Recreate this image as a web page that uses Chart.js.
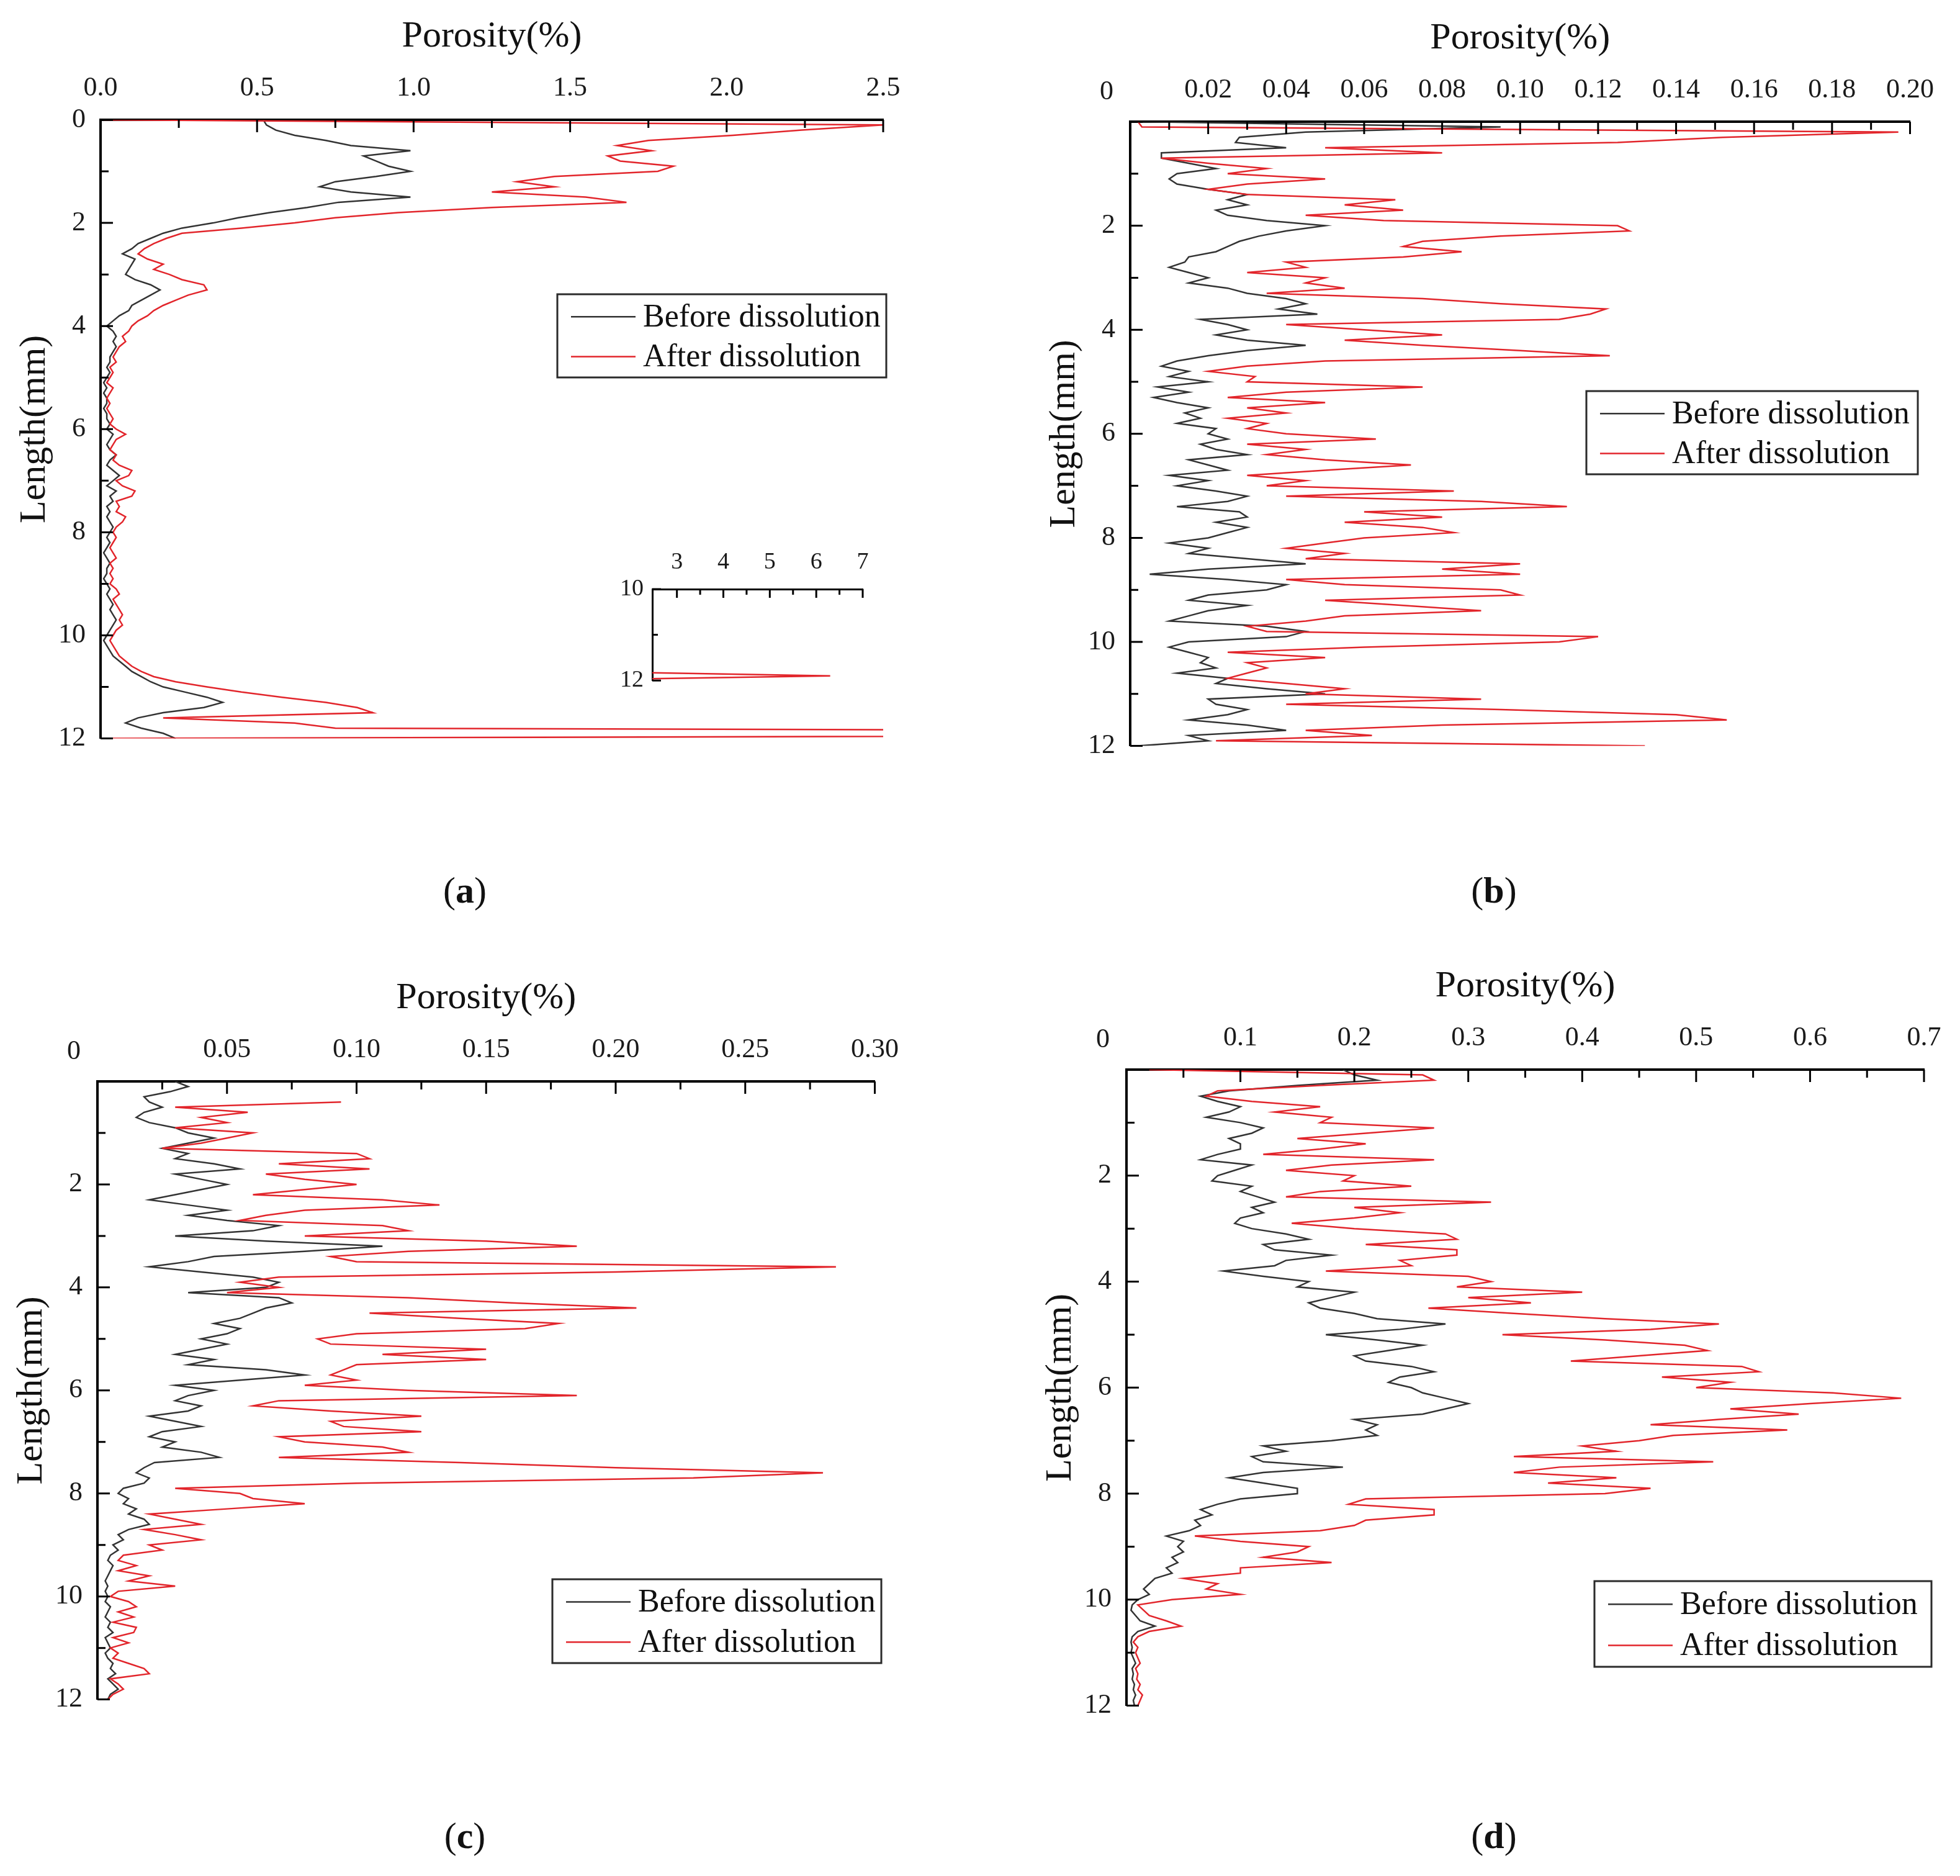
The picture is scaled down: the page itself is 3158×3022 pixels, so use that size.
<!DOCTYPE html>
<html>
<head>
<meta charset="utf-8">
<title>Porosity profiles before and after dissolution</title>
<script src="https://cdn.jsdelivr.net/npm/chart.js@4.4.1/dist/chart.umd.min.js"></script>
<style>
  html, body { margin: 0; padding: 0; background: #fff; }
  #page { position: relative; width: 3158px; height: 3022px; background: #fff; overflow: hidden; }
  #page canvas { position: absolute; }
  .caption {
    position: absolute;
    font-family: "Liberation Serif", "Times New Roman", serif;
    font-size: 60px;
    color: #111;
    transform: translate(-50%, -50%);
    white-space: nowrap;
  }
</style>
</head>
<body>
<div id="page">
  <canvas id="chartA"></canvas>
  <canvas id="chartAInset"></canvas>
  <canvas id="chartB"></canvas>
  <canvas id="chartC"></canvas>
  <canvas id="chartD"></canvas>
  <div class="caption" style="left:749px;top:1434px">(<b>a</b>)</div>
  <div class="caption" style="left:2407px;top:1434px">(<b>b</b>)</div>
  <div class="caption" style="left:749px;top:2957px">(<b>c</b>)</div>
  <div class="caption" style="left:2407px;top:2957px">(<b>d</b>)</div>
</div>
<script>
// sample positions along the core (mm), shared by every series
const lengthMm = [
  0.0, 0.1, 0.2, 0.3, 0.4, 0.5, 0.6, 0.7, 0.8, 0.9,
  1.0, 1.1, 1.2, 1.3, 1.4, 1.5, 1.6, 1.7, 1.8, 1.9,
  2.0, 2.1, 2.2, 2.3, 2.4, 2.5, 2.6, 2.7, 2.8, 2.9,
  3.0, 3.1, 3.2, 3.3, 3.4, 3.5, 3.6, 3.7, 3.8, 3.9,
  4.0, 4.1, 4.2, 4.3, 4.4, 4.5, 4.6, 4.7, 4.8, 4.9,
  5.0, 5.1, 5.2, 5.3, 5.4, 5.5, 5.6, 5.7, 5.8, 5.9,
  6.0, 6.1, 6.2, 6.3, 6.4, 6.5, 6.6, 6.7, 6.8, 6.9,
  7.0, 7.1, 7.2, 7.3, 7.4, 7.5, 7.6, 7.7, 7.8, 7.9,
  8.0, 8.1, 8.2, 8.3, 8.4, 8.5, 8.6, 8.7, 8.8, 8.9,
  9.0, 9.1, 9.2, 9.3, 9.4, 9.5, 9.6, 9.7, 9.8, 9.9,
  10.0, 10.1, 10.2, 10.3, 10.4, 10.5, 10.6, 10.7, 10.8, 10.9,
  11.0, 11.1, 11.2, 11.3, 11.4, 11.5, 11.6, 11.7, 11.8, 11.9,
  12.0
];

// porosity (%) per sample, panel (a)
const aBefore = [
  0.52, 0.53, 0.56, 0.62, 0.72, 0.80, 0.99, 0.84, 0.88, 0.92,
  0.99, 0.88, 0.75, 0.70, 0.80, 0.99, 0.76, 0.66, 0.54, 0.44,
  0.36, 0.26, 0.20, 0.16, 0.12, 0.10, 0.07, 0.11, 0.10, 0.09,
  0.08, 0.11, 0.16, 0.19, 0.16, 0.13, 0.10, 0.09, 0.06, 0.04,
  0.02, 0.04, 0.05, 0.04, 0.05, 0.04, 0.03, 0.03, 0.02, 0.03,
  0.02, 0.01, 0.02, 0.01, 0.02, 0.02, 0.01, 0.02, 0.02, 0.03,
  0.02, 0.04, 0.03, 0.02, 0.03, 0.05, 0.03, 0.02, 0.04, 0.06,
  0.04, 0.02, 0.05, 0.03, 0.04, 0.02, 0.03, 0.02, 0.03, 0.04,
  0.03, 0.02, 0.03, 0.02, 0.01, 0.02, 0.03, 0.02, 0.02, 0.01,
  0.02, 0.03, 0.02, 0.03, 0.04, 0.03, 0.04, 0.05, 0.04, 0.03,
  0.02, 0.01, 0.02, 0.03, 0.04, 0.06, 0.08, 0.10, 0.13, 0.16,
  0.20, 0.27, 0.34, 0.39, 0.33, 0.20, 0.12, 0.08, 0.13, 0.20,
  0.24
];
const aAfter = [
  0.01, 2.50, 2.24, 2.02, 1.75, 1.65, 1.76, 1.62, 1.66, 1.83,
  1.78, 1.45, 1.33, 1.45, 1.25, 1.55, 1.68, 1.25, 0.95, 0.75,
  0.62, 0.45, 0.26, 0.21, 0.17, 0.14, 0.12, 0.15, 0.20, 0.17,
  0.22, 0.26, 0.33, 0.34, 0.28, 0.24, 0.20, 0.17, 0.15, 0.12,
  0.10, 0.09, 0.07, 0.08, 0.06, 0.05, 0.04, 0.05, 0.03, 0.04,
  0.03, 0.02, 0.04, 0.03, 0.02, 0.03, 0.02, 0.03, 0.04, 0.03,
  0.05, 0.08, 0.05, 0.04, 0.03, 0.05, 0.04, 0.06, 0.10, 0.09,
  0.05, 0.07, 0.11, 0.10, 0.05, 0.06, 0.05, 0.08, 0.07, 0.05,
  0.04, 0.05, 0.04, 0.03, 0.04, 0.05, 0.03, 0.04, 0.03, 0.04,
  0.03, 0.05, 0.06, 0.04, 0.05, 0.06, 0.07, 0.06, 0.07, 0.05,
  0.04, 0.03, 0.04, 0.05, 0.06, 0.08, 0.10, 0.13, 0.17, 0.24,
  0.34, 0.45, 0.58, 0.72, 0.82, 0.87, 0.20, 0.62, 0.75, 6.30,
  0.02
];

// panel (b)
const bBefore = [
  0.002, 0.095, 0.045, 0.028, 0.027, 0.040, 0.008, 0.008, 0.015, 0.022,
  0.012, 0.010, 0.012, 0.020, 0.030, 0.025, 0.030, 0.022, 0.025, 0.035,
  0.050, 0.040, 0.033, 0.028, 0.025, 0.022, 0.015, 0.014, 0.010, 0.015,
  0.020, 0.015, 0.025, 0.030, 0.040, 0.045, 0.038, 0.048, 0.018, 0.025,
  0.030, 0.022, 0.030, 0.045, 0.030, 0.020, 0.012, 0.008, 0.015, 0.010,
  0.020, 0.007, 0.015, 0.006, 0.012, 0.020, 0.014, 0.018, 0.012, 0.022,
  0.020, 0.025, 0.018, 0.022, 0.030, 0.015, 0.020, 0.025, 0.010, 0.020,
  0.012, 0.022, 0.030, 0.025, 0.012, 0.028, 0.030, 0.022, 0.030, 0.025,
  0.020, 0.010, 0.020, 0.015, 0.030, 0.045, 0.020, 0.005, 0.025, 0.040,
  0.035, 0.020, 0.015, 0.030, 0.020, 0.015, 0.010, 0.035, 0.045, 0.040,
  0.015, 0.010, 0.015, 0.020, 0.018, 0.022, 0.012, 0.025, 0.022, 0.035,
  0.050, 0.020, 0.022, 0.030, 0.025, 0.015, 0.030, 0.040, 0.015, 0.020,
  0.002
];
const bAfter = [
  0.002, 0.003, 0.197, 0.152, 0.125, 0.050, 0.080, 0.008, 0.020, 0.035,
  0.025, 0.050, 0.030, 0.020, 0.030, 0.068, 0.055, 0.070, 0.045, 0.065,
  0.125, 0.128, 0.095, 0.075, 0.070, 0.085, 0.070, 0.040, 0.045, 0.030,
  0.050, 0.045, 0.055, 0.035, 0.075, 0.095, 0.122, 0.118, 0.110, 0.040,
  0.060, 0.080, 0.055, 0.075, 0.100, 0.123, 0.050, 0.030, 0.020, 0.032,
  0.030, 0.075, 0.040, 0.025, 0.050, 0.030, 0.040, 0.025, 0.035, 0.030,
  0.040, 0.063, 0.030, 0.045, 0.035, 0.050, 0.072, 0.050, 0.030, 0.045,
  0.035, 0.083, 0.040, 0.090, 0.112, 0.060, 0.080, 0.055, 0.075, 0.083,
  0.060, 0.050, 0.040, 0.055, 0.045, 0.100, 0.080, 0.100, 0.040, 0.055,
  0.095, 0.100, 0.050, 0.070, 0.090, 0.055, 0.045, 0.030, 0.035, 0.120,
  0.110, 0.060, 0.025, 0.050, 0.030, 0.035, 0.030, 0.025, 0.040, 0.055,
  0.045, 0.090, 0.040, 0.095, 0.140, 0.153, 0.080, 0.045, 0.062, 0.022,
  0.132
];

// panel (c)
const cBefore = [
  0.030, 0.035, 0.028, 0.018, 0.020, 0.025, 0.018, 0.015, 0.020, 0.030,
  0.035, 0.045, 0.035, 0.025, 0.035, 0.030, 0.045, 0.055, 0.030, 0.040,
  0.050, 0.040, 0.030, 0.020, 0.035, 0.050, 0.035, 0.050, 0.070, 0.060,
  0.030, 0.065, 0.110, 0.080, 0.045, 0.035, 0.020, 0.040, 0.060, 0.070,
  0.065, 0.035, 0.070, 0.075, 0.065, 0.060, 0.055, 0.045, 0.055, 0.050,
  0.040, 0.050, 0.040, 0.030, 0.045, 0.035, 0.065, 0.080, 0.055, 0.030,
  0.045, 0.035, 0.030, 0.040, 0.035, 0.020, 0.030, 0.040, 0.025, 0.020,
  0.030, 0.025, 0.040, 0.047, 0.022, 0.018, 0.015, 0.020, 0.018, 0.010,
  0.008, 0.012, 0.010, 0.015, 0.012, 0.018, 0.020, 0.012, 0.008, 0.010,
  0.006, 0.008, 0.005, 0.004, 0.006, 0.005, 0.004, 0.003, 0.004, 0.003,
  0.004, 0.003, 0.005, 0.004, 0.003, 0.005, 0.004, 0.006, 0.003, 0.004,
  0.005, 0.003, 0.004, 0.006, 0.005, 0.007, 0.004, 0.006, 0.008, 0.005,
  0.004
];
const cAfter = [
  null, null, null, null, 0.094, 0.030, 0.058, 0.040, 0.050, 0.030,
  0.060, 0.050, 0.040, 0.025, 0.100, 0.105, 0.070, 0.105, 0.065, 0.080,
  0.100, 0.080, 0.060, 0.110, 0.132, 0.080, 0.065, 0.055, 0.110, 0.120,
  0.080, 0.150, 0.185, 0.120, 0.090, 0.100, 0.285, 0.200, 0.070, 0.055,
  0.070, 0.050, 0.120, 0.160, 0.208, 0.105, 0.140, 0.178, 0.165, 0.100,
  0.085, 0.090, 0.150, 0.110, 0.150, 0.100, 0.095, 0.090, 0.100, 0.080,
  0.120, 0.185, 0.070, 0.060, 0.090, 0.125, 0.090, 0.095, 0.125, 0.070,
  0.080, 0.110, 0.120, 0.070, 0.140, 0.200, 0.280, 0.230, 0.100, 0.030,
  0.055, 0.060, 0.080, 0.050, 0.020, 0.030, 0.040, 0.018, 0.030, 0.040,
  0.020, 0.025, 0.010, 0.008, 0.015, 0.008, 0.020, 0.012, 0.030, 0.008,
  0.005, 0.012, 0.015, 0.008, 0.014, 0.006, 0.015, 0.014, 0.006, 0.012,
  0.005, 0.008, 0.006, 0.012, 0.018, 0.020, 0.005, 0.008, 0.010, 0.006,
  0.004
];

// panel (d)
const dBefore = [
  0.19, 0.20, 0.22, 0.15, 0.09, 0.065, 0.08, 0.10, 0.09, 0.07,
  0.10, 0.12, 0.11, 0.09, 0.10, 0.10, 0.08, 0.065, 0.11, 0.095,
  0.08, 0.075, 0.11, 0.10, 0.115, 0.13, 0.11, 0.12, 0.10, 0.095,
  0.11, 0.14, 0.16, 0.12, 0.13, 0.18, 0.14, 0.13, 0.085, 0.12,
  0.16, 0.15, 0.20, 0.18, 0.16, 0.17, 0.20, 0.22, 0.28, 0.24,
  0.175, 0.22, 0.26, 0.23, 0.20, 0.21, 0.25, 0.27, 0.24, 0.23,
  0.25, 0.26, 0.28, 0.30, 0.28, 0.26, 0.20, 0.22, 0.21, 0.22,
  0.18, 0.12, 0.14, 0.11, 0.12, 0.19, 0.12, 0.09, 0.12, 0.15,
  0.15, 0.10, 0.08, 0.065, 0.075, 0.06, 0.065, 0.055, 0.035, 0.05,
  0.045, 0.05, 0.04, 0.045, 0.035, 0.04, 0.025, 0.02, 0.015, 0.02,
  0.010, 0.005, 0.004, 0.008, 0.012, 0.025, 0.010, 0.005, 0.004, 0.005,
  0.004, 0.006, 0.008, 0.005, 0.006, 0.005, 0.007, 0.006, 0.008, 0.006,
  0.007
];
const dAfter = [
  0.02, 0.26, 0.27, 0.17, 0.08, 0.07, 0.11, 0.17, 0.13, 0.18,
  0.17, 0.27, 0.21, 0.15, 0.21, 0.17, 0.12, 0.27, 0.18, 0.14,
  0.20, 0.19, 0.25, 0.17, 0.14, 0.32, 0.20, 0.24, 0.20, 0.145,
  0.20, 0.28, 0.29, 0.21, 0.29, 0.29, 0.24, 0.25, 0.175, 0.30,
  0.32, 0.29, 0.40, 0.30, 0.355, 0.265, 0.34, 0.42, 0.52, 0.46,
  0.33, 0.42, 0.49, 0.51, 0.45, 0.39, 0.54, 0.555, 0.47, 0.53,
  0.50, 0.62, 0.68, 0.60, 0.53, 0.59, 0.52, 0.46, 0.58, 0.48,
  0.45, 0.40, 0.43, 0.34, 0.515, 0.38, 0.34, 0.43, 0.37, 0.46,
  0.42, 0.21, 0.195, 0.27, 0.27, 0.21, 0.20, 0.17, 0.06, 0.10,
  0.16, 0.15, 0.12, 0.18, 0.10, 0.10, 0.05, 0.08, 0.07, 0.10,
  0.040, 0.010, 0.015, 0.020, 0.035, 0.048, 0.020, 0.010, 0.006, 0.010,
  0.008, 0.010, 0.012, 0.008, 0.010, 0.009, 0.012, 0.010, 0.014, 0.012,
  0.010
];

// tick values
const aTicksX = [0, 0.5, 1.0, 1.5, 2.0, 2.5];
const bTicksX = [0, 0.02, 0.04, 0.06, 0.08, 0.10, 0.12, 0.14, 0.16, 0.18, 0.20];
const cTicksX = [0, 0.05, 0.10, 0.15, 0.20, 0.25, 0.30];
const dTicksX = [0, 0.1, 0.2, 0.3, 0.4, 0.5, 0.6, 0.7];
const lengthTicks = [0, 2, 4, 6, 8, 10, 12];
const insetTicksX = [3, 4, 5, 6, 7];
const insetTicksY = [10, 12];

const SERIF = "'Liberation Serif', 'Times New Roman', serif";
const BLACK = '#333333';
const RED = '#e2252b';
const AXIS_W = 170, AXIS_H = 200, PAD_R = 60, PAD_B = 40;

function toPoints(values) {
  return values
    .map((v, i) => (v === null ? null : { x: v, y: lengthMm[i] }))
    .filter(p => p !== null);
}

// place a canvas so that its chart area lands on the given page rectangle
function placeCanvas(id, rect, axisW, axisH, padR, padB) {
  const c = document.getElementById(id);
  c.width = rect.right - rect.left + axisW + padR;
  c.height = rect.bottom - rect.top + axisH + padB;
  c.style.left = (rect.left - axisW) + 'px';
  c.style.top = (rect.top - axisH) + 'px';
  return c;
}

// inward tick marks, the shared corner "0" and the boxed legend
const decorPlugin = {
  id: 'decor',
  afterDraw(chart, args, o) {
    const { ctx, chartArea: a, scales: { x, y } } = chart;
    const mids = vs => vs.slice(1).map((v, i) => (v + vs[i]) / 2);
    const xt = x.ticks.map(t => t.value);
    const yt = y.ticks.map(t => t.value);
    ctx.save();
    ctx.strokeStyle = '#000';
    ctx.lineWidth = o.tickWidth;
    ctx.beginPath();
    xt.forEach(v => { const p = x.getPixelForValue(v); ctx.moveTo(p, a.top); ctx.lineTo(p, a.top + o.major); });
    mids(xt).forEach(v => { const p = x.getPixelForValue(v); ctx.moveTo(p, a.top); ctx.lineTo(p, a.top + o.minor); });
    yt.forEach(v => { const p = y.getPixelForValue(v); ctx.moveTo(a.left, p); ctx.lineTo(a.left + o.major, p); });
    mids(yt).forEach(v => { const p = y.getPixelForValue(v); ctx.moveTo(a.left, p); ctx.lineTo(a.left + o.minor, p); });
    ctx.stroke();

    if (o.cornerZero) {
      ctx.fillStyle = '#1a1a1a';
      ctx.font = `44px ${SERIF}`;
      ctx.textAlign = 'center';
      ctx.textBaseline = 'middle';
      ctx.fillText('0', a.left - 38, a.top - 48);
    }

    if (o.legend) {
      const L = o.legend;
      const bx = a.left + L.dx, by = a.top + L.dy;
      ctx.strokeStyle = '#2b2b2b';
      ctx.lineWidth = 3;
      ctx.strokeRect(bx, by, L.w, L.h);
      ctx.font = `52px ${SERIF}`;
      ctx.textAlign = 'left';
      ctx.textBaseline = 'middle';
      chart.data.datasets.forEach((ds, i) => {
        const ry = by + L.h * (0.27 + 0.48 * i);
        ctx.strokeStyle = ds.borderColor;
        ctx.lineWidth = 2.5;
        ctx.beginPath();
        ctx.moveTo(bx + 22, ry);
        ctx.lineTo(bx + 126, ry);
        ctx.stroke();
        ctx.fillStyle = '#111';
        ctx.fillText(ds.label, bx + 138, ry + 2);
      });
    }
    ctx.restore();
  }
};

function seriesSets(before, after) {
  const common = { borderWidth: 2.5, showLine: true, pointRadius: 0 };
  return [
    Object.assign({ label: 'Before dissolution', data: toPoints(before), borderColor: BLACK, order: 1 }, common),
    Object.assign({ label: 'After dissolution', data: toPoints(after), borderColor: RED, order: 0 }, common)
  ];
}

function panelChart(id, rect, p) {
  const canvas = placeCanvas(id, rect, AXIS_W, AXIS_H, PAD_R, PAD_B);
  return new Chart(canvas, {
    type: 'scatter',
    data: { datasets: seriesSets(p.before, p.after) },
    options: {
      responsive: false,
      animation: false,
      devicePixelRatio: 1,
      layout: { padding: { left: 0, top: 0, right: PAD_R, bottom: PAD_B } },
      plugins: {
        legend: { display: false },
        tooltip: { enabled: false },
        decor: { tickWidth: 3, major: 20, minor: 13, cornerZero: p.cornerZero, legend: p.legend }
      },
      scales: {
        x: {
          type: 'linear',
          position: 'top',
          min: p.ticksX[0],
          max: p.ticksX[p.ticksX.length - 1],
          afterBuildTicks: s => { s.ticks = p.ticksX.map(v => ({ value: v })); },
          afterFit: s => { s.height = AXIS_H; },
          grid: { display: false, drawTicks: false },
          border: { display: true, color: '#000', width: 4 },
          ticks: {
            color: '#1a1a1a', font: { family: SERIF, size: 44 }, padding: 24,
            autoSkip: false, maxRotation: 0,
            callback: v => (v === 0 && p.cornerZero ? '' : v.toFixed(p.digits))
          },
          title: { display: true, text: 'Porosity(%)', color: '#111',
                   font: { family: SERIF, size: 60 }, padding: { top: 30, bottom: 0 } }
        },
        y: {
          type: 'linear',
          reverse: true,
          min: 0,
          max: 12,
          afterBuildTicks: s => { s.ticks = lengthTicks.map(v => ({ value: v })); },
          afterFit: s => { s.width = AXIS_W; },
          grid: { display: false, drawTicks: false },
          border: { display: true, color: '#000', width: 4 },
          ticks: {
            color: '#1a1a1a', font: { family: SERIF, size: 44 }, padding: 24,
            autoSkip: false,
            callback: v => (v === 0 && p.cornerZero ? '' : String(v))
          },
          title: { display: true, text: 'Length(mm)', color: '#111',
                   font: { family: SERIF, size: 60 }, padding: { top: 28, bottom: 0 } }
        }
      }
    },
    plugins: [decorPlugin]
  });
}

panelChart('chartA', { left: 162, top: 193, right: 1423, bottom: 1200 }, {
  before: aBefore, after: aAfter, ticksX: aTicksX, digits: 1, cornerZero: false,
  legend: { dx: 736, dy: 281, w: 530, h: 134 }
});
panelChart('chartB', { left: 1821, top: 196, right: 3080, bottom: 1212 }, {
  before: bBefore, after: bAfter, ticksX: bTicksX, digits: 2, cornerZero: true,
  legend: { dx: 735, dy: 434, w: 534, h: 134 }
});
panelChart('chartC', { left: 157, top: 1742, right: 1412, bottom: 2748 }, {
  before: cBefore, after: cAfter, ticksX: cTicksX, digits: 2, cornerZero: true,
  legend: { dx: 733, dy: 802, w: 530, h: 135 }
});
panelChart('chartD', { left: 1815, top: 1723, right: 3100, bottom: 2758 }, {
  before: dBefore, after: dAfter, ticksX: dTicksX, digits: 1, cornerZero: true,
  legend: { dx: 754, dy: 824, w: 543, h: 138 }
});

// zoomed inset of panel (a): the high-porosity spike near the outlet
(function insetChart() {
  const rect = { left: 1051, top: 949, right: 1390, bottom: 1103 };
  const canvas = placeCanvas('chartAInset', rect, 100, 90, 30, 30);
  new Chart(canvas, {
    type: 'scatter',
    data: { datasets: seriesSets(aBefore, aAfter) },
    options: {
      responsive: false,
      animation: false,
      devicePixelRatio: 1,
      layout: { padding: { left: 0, top: 0, right: 30, bottom: 30 } },
      plugins: {
        legend: { display: false },
        tooltip: { enabled: false },
        decor: { tickWidth: 3, major: 14, minor: 9, cornerZero: false, legend: null }
      },
      scales: {
        x: {
          type: 'linear', position: 'top', min: 2.47, max: 7,
          afterBuildTicks: s => { s.ticks = insetTicksX.map(v => ({ value: v })); },
          afterFit: s => { s.height = 90; },
          grid: { display: false, drawTicks: false },
          border: { display: true, color: '#000', width: 3 },
          ticks: { color: '#1a1a1a', font: { family: SERIF, size: 38 }, padding: 20,
                   autoSkip: false, maxRotation: 0, callback: v => String(v) }
        },
        y: {
          type: 'linear', reverse: true, min: 10, max: 12,
          afterBuildTicks: s => { s.ticks = insetTicksY.map(v => ({ value: v })); },
          afterFit: s => { s.width = 100; },
          grid: { display: false, drawTicks: false },
          border: { display: true, color: '#000', width: 3 },
          ticks: { color: '#1a1a1a', font: { family: SERIF, size: 38 }, padding: 14,
                   autoSkip: false, callback: v => String(v) }
        }
      }
    },
    plugins: [decorPlugin]
  });
})();
</script>
</body>
</html>
